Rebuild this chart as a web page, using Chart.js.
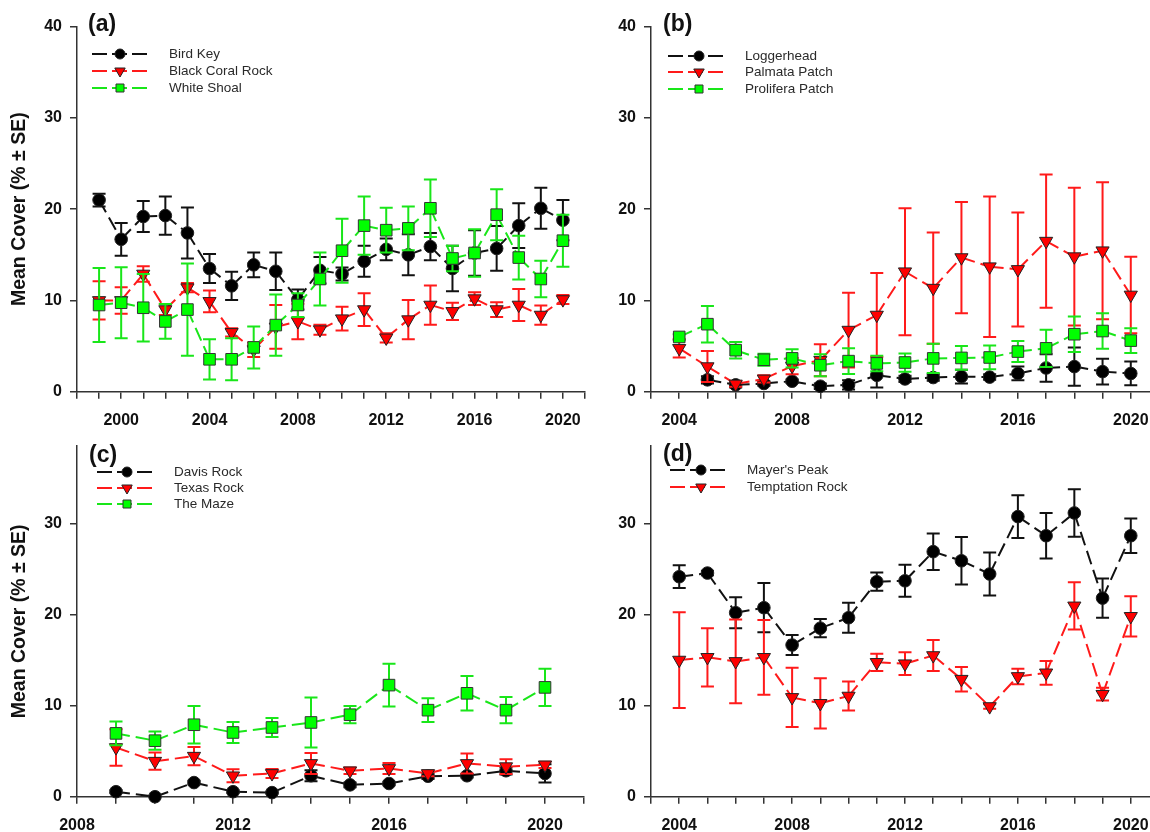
<!DOCTYPE html>
<html>
<head>
<meta charset="utf-8">
<title>Mean cover by site</title>
<script src="https://cdn.jsdelivr.net/npm/chart.js@4.4.1/dist/chart.umd.min.js"></script>
<style>
  html, body { margin: 0; padding: 0; background: #fff; width: 1150px; height: 832px; overflow: hidden; }
  canvas { position: absolute; }
</style>
</head>
<body>
<canvas id="panelA" width="597" height="432" style="left:0;top:0"></canvas>
<canvas id="panelB" width="596" height="432" style="left:575px;top:0"></canvas>
<canvas id="panelC" width="596" height="422" style="left:0;top:410px"></canvas>
<canvas id="panelD" width="596" height="422" style="left:575px;top:410px"></canvas>
<script>
// ---- Panel (a): 1999–2020 ----
const yearsA = [1999, 2000, 2001, 2002, 2003, 2004, 2005, 2006, 2007, 2008, 2009, 2010, 2011, 2012, 2013, 2014, 2015, 2016, 2017, 2018, 2019, 2020];
const birdKey      = [21.0, 16.7, 19.2, 19.3, 17.4, 13.5, 11.6, 13.9, 13.2, 10.1, 13.3, 12.9, 14.3, 15.6, 15.0, 15.9, 13.5, 15.2, 15.7, 18.2, 20.1, 18.8];
const birdKeySE    = [0.7, 1.8, 1.7, 2.1, 2.8, 1.6, 1.55, 1.35, 2.05, 1.1, 1.45, 0.7, 1.7, 1.2, 2.25, 1.5, 2.5, 2.5, 2.45, 2.45, 2.25, 2.2];
const blackCoral   = [10.0, 10.0, 12.9, 9.0, 11.4, 9.9, 6.5, 4.6, 7.1, 7.7, 6.8, 8.0, 9.0, 5.9, 7.9, 9.5, 8.8, 10.2, 9.0, 9.5, 8.4, 10.1];
const blackCoralSE = [2.1, 1.45, 0.85, 0.6, 0.5, 1.2, 0.45, 0.8, 2.4, 1.95, 0.55, 1.3, 1.8, 0.5, 2.15, 2.15, 0.95, 0.7, 0.8, 1.75, 1.05, 0.5];
const whiteShoal   = [9.5, 9.75, 9.2, 7.7, 9.0, 3.55, 3.55, 4.85, 7.3, 9.5, 12.35, 15.45, 18.2, 17.7, 17.9, 20.1, 14.6, 15.2, 19.4, 14.7, 12.35, 16.55];
const whiteShoalSE = [4.05, 3.9, 3.7, 1.9, 5.05, 2.2, 2.3, 2.3, 3.35, 1.3, 2.9, 3.5, 3.2, 2.45, 2.4, 3.15, 1.4, 2.6, 2.8, 2.4, 2.0, 2.85];

// ---- Panel (b): 2004–2020 ----
const yearsB = [2004, 2005, 2006, 2007, 2008, 2009, 2010, 2011, 2012, 2013, 2014, 2015, 2016, 2017, 2018, 2019, 2020];
const yearsLoggerhead = [2005, 2006, 2007, 2008, 2009, 2010, 2011, 2012, 2013, 2014, 2015, 2016, 2017, 2018, 2019, 2020];
const loggerhead     = [1.3, 0.75, 0.9, 1.15, 0.6, 0.75, 1.8, 1.4, 1.55, 1.65, 1.6, 2.0, 2.6, 2.75, 2.2, 2.0];
const loggerheadSE   = [0.4, 0.3, 0.25, 0.2, 0.3, 0.5, 1.35, 0.35, 0.35, 0.75, 0.3, 0.75, 1.5, 2.1, 1.4, 1.3];
const palmata        = [4.75, 2.75, 0.85, 1.4, 2.8, 3.45, 6.75, 8.4, 13.15, 11.35, 14.7, 13.7, 13.4, 16.5, 14.8, 15.45, 10.6];
const palmataSE      = [1.0, 1.7, 0.3, 0.4, 0.9, 1.75, 4.1, 4.6, 6.95, 6.1, 6.1, 7.7, 6.25, 7.3, 7.55, 7.5, 4.2];
const prolifera      = [6.0, 7.4, 4.55, 3.5, 3.65, 2.9, 3.35, 3.1, 3.2, 3.65, 3.7, 3.75, 4.4, 4.75, 6.3, 6.65, 5.6];
const proliferaSE    = [0.3, 2.0, 0.9, 0.65, 1.0, 1.2, 1.4, 0.85, 1.0, 1.6, 1.3, 1.3, 1.15, 2.05, 1.95, 1.95, 1.35];

// ---- Panel (c): 2009–2020 ----
const yearsC = [2009, 2010, 2011, 2012, 2013, 2014, 2015, 2016, 2017, 2018, 2019, 2020];
const davisRock    = [0.55, 0, 1.55, 0.55, 0.45, 2.3, 1.3, 1.45, 2.25, 2.3, 2.85, 2.55];
const davisRockSE  = [0.15, 0, 0.2, 0.15, 0.1, 0.6, 0.25, 0.2, 0.3, 0.2, 0.4, 1.0];
const texasRock    = [5.4, 3.9, 4.45, 2.3, 2.55, 3.65, 2.85, 3.1, 2.55, 3.65, 3.3, 3.5];
const texasRockSE  = [2.0, 0.95, 1.0, 0.7, 0.5, 1.15, 0.35, 0.6, 0.3, 1.1, 0.8, 0.35];
const theMaze      = [6.95, 6.15, 7.9, 7.05, 7.6, 8.15, 9.0, 12.25, 9.5, 11.35, 9.5, 12.0];
const theMazeSE    = [1.3, 1.0, 2.05, 1.15, 1.05, 2.75, 0.95, 2.35, 1.3, 1.9, 1.45, 2.05];

// ---- Panel (d): 2004–2020 ----
const yearsD = [2004, 2005, 2006, 2007, 2008, 2009, 2010, 2011, 2012, 2013, 2014, 2015, 2016, 2017, 2018, 2019, 2020];
const mayersPeak     = [24.15, 24.55, 20.2, 20.75, 16.65, 18.5, 19.65, 23.6, 23.7, 26.9, 25.9, 24.45, 30.75, 28.65, 31.15, 21.8, 28.65];
const mayersPeakSE   = [1.25, 0.25, 1.7, 2.7, 1.1, 1.0, 1.65, 1.0, 1.75, 2.0, 2.6, 2.35, 2.35, 2.5, 2.6, 2.15, 1.9];
const temptation     = [15.0, 15.3, 14.85, 15.3, 10.9, 10.25, 11.05, 14.75, 14.6, 15.5, 12.9, 9.9, 13.2, 13.6, 20.95, 11.25, 19.8];
const temptationSE   = [5.25, 3.2, 4.6, 4.1, 3.25, 2.75, 1.6, 0.95, 1.25, 1.7, 1.35, 0.25, 0.85, 1.3, 2.6, 0.7, 2.2];

// ---- Axis tick labels ----
const xLabelsA = [2000, 2004, 2008, 2012, 2016, 2020];
const xLabelsB = [2004, 2008, 2012, 2016, 2020];
const xLabelsC = [2008, 2012, 2016, 2020];
const yTicksTop = [0, 10, 20, 30, 40];
const yTicksBottom = [0, 10, 20, 30];
const yTitle = 'Mean Cover (% \u00B1 SE)';

const FONT = '"Liberation Sans", Arial, Helvetica, sans-serif';
Chart.defaults.font.family = FONT;

// marker / line styles for the three series slots
const STYLE = {
  black: { line: '#111111', fill: '#000000', edge: '#222222', point: 'circle',   radius: 6.3, rotation: 0,   order: 3 },
  red:   { line: '#ff1a1a', fill: '#ff0000', edge: '#222222', point: 'triangle', radius: 7.6, rotation: 180, order: 2 },
  green: { line: '#19e619', fill: '#00ff00', edge: '#333333', point: 'rect',     radius: 8.2, rotation: 0,   order: 1 }
};

function series(name, years, means, se, style) {
  return {
    label: name,
    data: years.map((x, i) => ({ x: x, y: means[i] })),
    se: se,
    borderColor: style.line,
    borderWidth: 2,
    borderDash: [14, 6],
    pointStyle: style.point,
    pointRadius: style.radius,
    pointHoverRadius: style.radius,
    pointRotation: style.rotation,
    pointBackgroundColor: style.fill,
    pointBorderColor: style.edge,
    pointBorderWidth: 1,
    order: style.order,
    clip: false,
    tension: 0,
    // restart the dash pattern on every segment between two points
    segment: { borderDashOffset: c => (c.p0DataIndex % 2) * 0.01 }
  };
}

// vertical ±SE bars with caps, drawn just before each series
const errorBars = {
  id: 'errorBars',
  beforeDatasetDraw(chart, args) {
    const ds = chart.data.datasets[args.index];
    if (!ds.se) return;
    const xs = chart.scales.x, ys = chart.scales.y, ctx = chart.ctx;
    ctx.save();
    ctx.strokeStyle = ds.borderColor;
    ctx.lineWidth = 2;
    ctx.setLineDash([]);
    ds.data.forEach((p, i) => {
      const e = ds.se[i];
      if (!e) return;
      const px = xs.getPixelForValue(p.x);
      const top = ys.getPixelForValue(p.y + e);
      const bot = ys.getPixelForValue(Math.max(p.y - e, 0));
      ctx.beginPath();
      ctx.moveTo(px, top); ctx.lineTo(px, bot);
      ctx.moveTo(px - 6.5, top); ctx.lineTo(px + 6.5, top);
      ctx.moveTo(px - 6.5, bot); ctx.lineTo(px + 6.5, bot);
      ctx.stroke();
    });
    ctx.restore();
  }
};

function drawMarker(ctx, kind, x, y, r, fill, edge) {
  ctx.beginPath();
  if (kind === 'circle') {
    ctx.arc(x, y, r, 0, Math.PI * 2);
  } else if (kind === 'triangle') {
    const h = r * 0.87;
    ctx.moveTo(x - h, y - r * 0.5);
    ctx.lineTo(x + h, y - r * 0.5);
    ctx.lineTo(x, y + r);
    ctx.closePath();
  } else {
    ctx.rect(x - r * 0.8, y - r * 0.8, r * 1.6, r * 1.6);
  }
  ctx.fillStyle = fill;
  ctx.fill();
  ctx.lineWidth = 1;
  ctx.strokeStyle = edge;
  ctx.stroke();
}

// key: dashed line with the series marker and the site name
const siteKey = {
  id: 'siteKey',
  afterDraw(chart, args, opts) {
    const ctx = chart.ctx;
    chart.data.datasets.forEach((ds, i) => {
      const y = opts.rows[i];
      ctx.save();
      ctx.strokeStyle = ds.borderColor;
      ctx.lineWidth = 2;
      ctx.setLineDash([15, 5]);
      ctx.beginPath();
      ctx.moveTo(opts.x0, y);
      ctx.lineTo(opts.x1, y);
      ctx.stroke();
      ctx.setLineDash([]);
      drawMarker(ctx, ds.pointStyle, opts.mx, y, ds.pointStyle === 'triangle' ? 6 : 5, ds.pointBackgroundColor, ds.pointBorderColor);
      ctx.fillStyle = '#2a2a2a';
      ctx.font = '13.5px ' + FONT;
      ctx.textBaseline = 'middle';
      ctx.textAlign = 'left';
      ctx.fillText(ds.label, opts.tx, y);
      ctx.restore();
    });
  }
};

// panel letter in the top-left corner
const panelTag = {
  id: 'panelTag',
  afterDraw(chart, args, opts) {
    const ctx = chart.ctx;
    ctx.save();
    ctx.fillStyle = '#111';
    ctx.font = 'bold 23px ' + FONT;
    ctx.textBaseline = 'middle';
    ctx.textAlign = 'left';
    ctx.fillText(opts.text, opts.x, opts.y);
    ctx.restore();
  }
};

function makePanel(id, cfg) {
  const tickFont = { family: FONT, size: 16, weight: 'bold' };
  return new Chart(document.getElementById(id), {
    type: 'line',
    data: { datasets: cfg.datasets },
    plugins: [errorBars, siteKey, panelTag],
    options: {
      responsive: false,
      animation: false,
      devicePixelRatio: 1,
      layout: { padding: cfg.padding, autoPadding: false },
      plugins: {
        legend: { display: false },
        tooltip: { enabled: false },
        siteKey: cfg.key,
        panelTag: cfg.tag
      },
      scales: {
        x: {
          type: 'linear',
          min: cfg.xMin,
          max: cfg.xMax,
          afterBuildTicks: s => {
            const t = [];
            for (let v = cfg.xMin; v <= cfg.xMax; v++) t.push({ value: v });
            s.ticks = t;
          },
          afterFit: s => { s.height = cfg.xHeight; },
          border: { color: '#333', width: 1.5 },
          grid: { drawOnChartArea: false, drawTicks: true, tickLength: 7, color: '#333', lineWidth: 1.5 },
          ticks: {
            autoSkip: false, maxRotation: 0, padding: 12, color: '#111', font: tickFont,
            callback: v => cfg.xLabels.includes(v) ? String(v) : ''
          }
        },
        y: {
          type: 'linear',
          min: 0,
          max: cfg.yMax,
          afterBuildTicks: s => { s.ticks = cfg.yTicks.map(v => ({ value: v })); },
          afterFit: s => { s.width = cfg.yWidth; },
          border: { color: '#333', width: 1.5 },
          grid: { drawOnChartArea: false, drawTicks: true, tickLength: 7, color: '#333', lineWidth: 1.5 },
          ticks: { padding: 8, color: '#111', font: tickFont },
          title: {
            display: !!cfg.yTitle,
            text: cfg.yTitle || '',
            color: '#111',
            font: { family: FONT, size: 19.5, weight: 'bold' },
            padding: { top: 8, bottom: 0 }
          }
        }
      }
    }
  });
}

// the x scale reserves its tick padding (12 px) on the right, so each canvas is
// sized to put the plot's right edge one year past 2020
makePanel('panelA', {
  xMin: 1998, xMax: 2021, yMax: 40, yTicks: yTicksTop, xLabels: xLabelsA, yTitle: yTitle,
  yWidth: 77, xHeight: 40.3, padding: { left: 0, top: 26.7, right: 0, bottom: 0 },
  tag: { text: '(a)', x: 88, y: 25 },
  key: { x0: 92, x1: 148, mx: 120, tx: 169, rows: [54, 71, 88] },
  datasets: [
    series('Bird Key', yearsA, birdKey, birdKeySE, STYLE.black),
    series('Black Coral Rock', yearsA, blackCoral, blackCoralSE, STYLE.red),
    series('White Shoal', yearsA, whiteShoal, whiteShoalSE, STYLE.green)
  ]
});

makePanel('panelB', {
  xMin: 2003, xMax: 2021, yMax: 40, yTicks: yTicksTop, xLabels: xLabelsB, yTitle: null,
  yWidth: 76, xHeight: 40.3, padding: { left: 0, top: 26.7, right: 0, bottom: 0 },
  tag: { text: '(b)', x: 88, y: 25 },
  key: { x0: 93, x1: 148, mx: 124, tx: 170, rows: [56, 72, 89] },
  datasets: [
    series('Loggerhead', yearsLoggerhead, loggerhead, loggerheadSE, STYLE.black),
    series('Palmata Patch', yearsB, palmata, palmataSE, STYLE.red),
    series('Prolifera Patch', yearsB, prolifera, proliferaSE, STYLE.green)
  ]
});

makePanel('panelC', {
  xMin: 2008, xMax: 2021, yMax: 38.5, yTicks: yTicksBottom, xLabels: xLabelsC, yTitle: yTitle,
  yWidth: 77, xHeight: 35.3, padding: { left: 0, top: 36, right: 0, bottom: 0 },
  tag: { text: '(c)', x: 89, y: 46 },
  key: { x0: 97, x1: 152, mx: 127, tx: 174, rows: [62, 78, 94] },
  datasets: [
    series('Davis Rock', yearsC, davisRock, davisRockSE, STYLE.black),
    series('Texas Rock', yearsC, texasRock, texasRockSE, STYLE.red),
    series('The Maze', yearsC, theMaze, theMazeSE, STYLE.green)
  ]
});

makePanel('panelD', {
  xMin: 2003, xMax: 2021, yMax: 38.5, yTicks: yTicksBottom, xLabels: xLabelsB, yTitle: null,
  yWidth: 76, xHeight: 35.3, padding: { left: 0, top: 36, right: 0, bottom: 0 },
  tag: { text: '(d)', x: 88, y: 45 },
  key: { x0: 95, x1: 150, mx: 126, tx: 172, rows: [60, 77] },
  datasets: [
    series("Mayer's Peak", yearsD, mayersPeak, mayersPeakSE, STYLE.black),
    series('Temptation Rock', yearsD, temptation, temptationSE, STYLE.red)
  ]
});
</script>
</body>
</html>
